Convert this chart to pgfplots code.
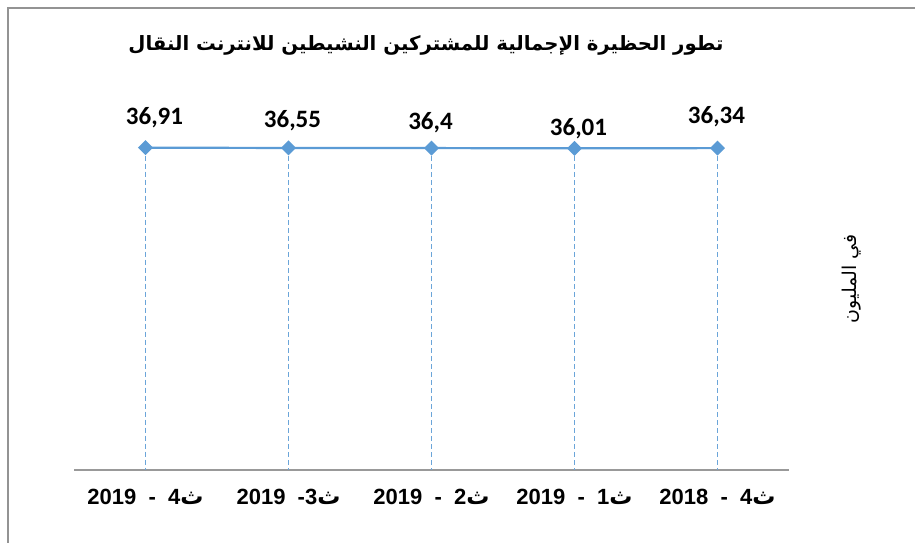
\documentclass[border=0pt]{standalone}
\usepackage{fontspec}
\usepackage{pgfplots}
\pgfplotsset{compat=1.18}
\usepackage{pgfplotstable}
\setmainfont{Liberation Sans}
\newfontfamily\arabicfont[Script=Arabic]{DejaVu Sans}
\newfontfamily\carlito{Carlito}
\TeXXeTstate=1
\definecolor{lineblue}{HTML}{5B9BD5}

\pgfplotstableread{
x y label dx dy
0 36.34 36,34 -1 31
1 36.01 36,01 4 20
2 36.4 36,4 -1 25
3 36.55 36,55 4 27
4 36.91 36,91 9 30
}\datatable

\newcommand{\tha}{{\arabicfont\fontsize{23}{26}\selectfont ث}}

\begin{document}
\begin{tikzpicture}
\path[use as bounding box] (0,0) rectangle (915pt,-543pt);
\draw[color=gray!85, line width=1.5pt] (8pt,-543pt) -- (8pt,-8pt) -- (915pt,-8pt);
\begin{axis}[
  at={(74pt,-470pt)}, anchor=south west,
  scale only axis, width=715pt, height=390pt,
  xmin=-0.5, xmax=4.5, x dir=reverse,
  ymin=-400, ymax=128.7,
  axis x line*=bottom, axis y line=none,
  x axis line style={-, color=gray!80, line width=1.5pt},
  xtick={0,1,2,3,4},
  xticklabels={
    {2018\ \ -\ \ 4\tha},
    {2019\ \ -\ \ 1\tha},
    {2019\ \ -\ \ 2\tha},
    {2019\ \ -3\tha},
    {2019\ \ -\ \ 4\tha}},
  major tick length=0pt,
  xticklabel style={font=\bfseries\fontsize{22}{24}\selectfont, yshift=-16pt},
  ytick=\empty,
]
\addplot[color=lineblue, line width=2.2pt, mark=square*, mark size=4.2pt,
  mark options={rotate=45, solid, fill=lineblue},
  nodes near coords, point meta=explicit symbolic,
  visualization depends on={\thisrow{dx} \as \dx},
  visualization depends on={\thisrow{dy} \as \dy},
  every node near coord/.append style={anchor=center, xshift=\dx*1pt, yshift=\dy*1pt,
    text=black, font=\carlito\bfseries\fontsize{25}{30}\selectfont},
  error bars/.cd, y dir=minus, y fixed=2000, error mark=none,
  error bar style={color=lineblue!90, line width=0.8pt, dash pattern=on 5pt off 3pt}]
  table[x=x, y=y, meta=label]{\datatable};
\end{axis}
\node[font=\arabicfont\bfseries\fontsize{19.7}{24}\selectfont] at (426pt,-45pt)
  {\beginR تطور الحظيرة الإجمالية للمشتركين النشيطين للانترنت النقال\endR};
\node[rotate=90, font=\arabicfont\fontsize{19}{22}\selectfont] at (852pt,-279pt)
  {\beginR في المليون\endR};
\end{tikzpicture}
\end{document}
